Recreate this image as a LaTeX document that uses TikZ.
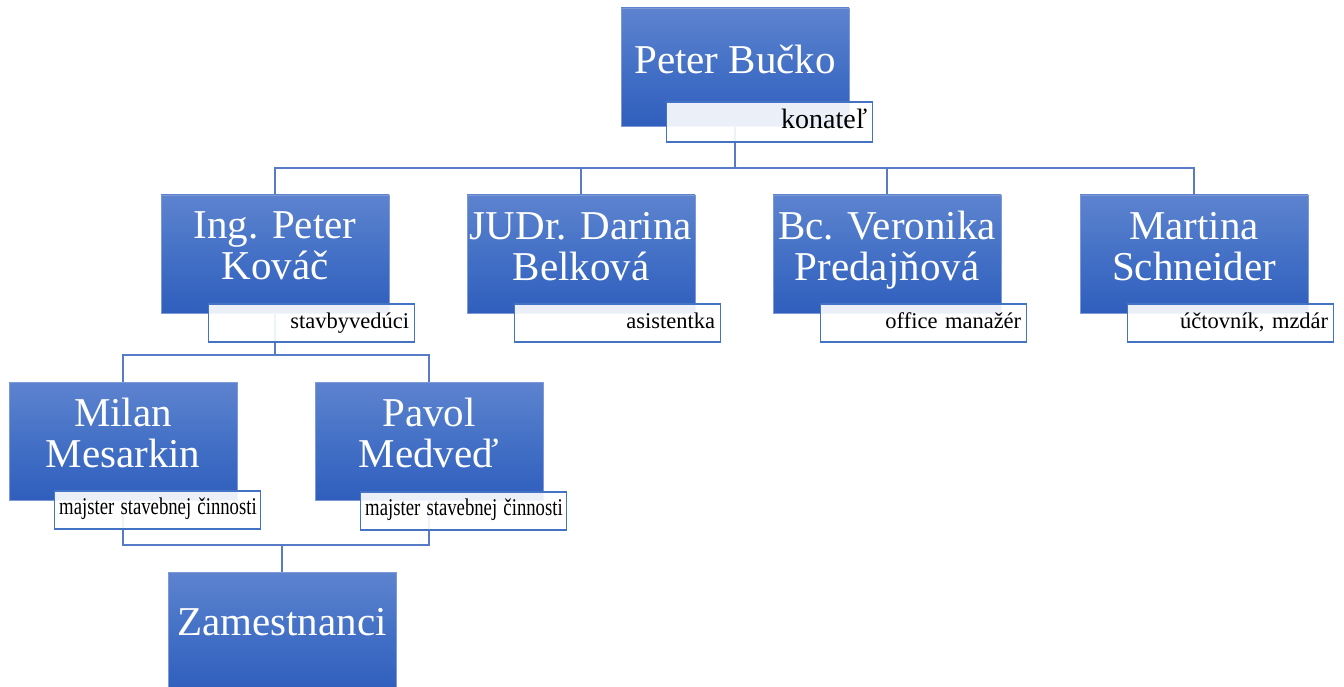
\documentclass[tikz,border=0pt]{standalone}
\usepackage{fontspec}
\setmainfont{Liberation Serif}
\usetikzlibrary{backgrounds}
\definecolor{bxtop}{RGB}{93,131,207}
\definecolor{bxmid}{RGB}{68,113,198}
\definecolor{bxbot}{RGB}{47,94,189}
\definecolor{bxrim}{RGB}{125,153,216}
\definecolor{rim}{RGB}{68,114,196}
\definecolor{lnk}{RGB}{88,123,199}
\newcommand{\tight}[1]{\scalebox{0.78}[1]{#1}}

\begin{document}
\begin{tikzpicture}[x=1pt,y=-1pt,
    person/.style={rectangle,top color=bxtop,bottom color=bxbot,middle color=bxmid,
        draw=bxrim,line width=0.8pt,minimum width=228pt,minimum height=118pt,
        inner sep=0pt,text=white,align=center,font=\fontsize{41}{41}\selectfont},
    twoline/.style={person,text depth=16pt},
    role/.style={rectangle,draw=rim,line width=1.2pt,fill=white,fill opacity=0.9,
        text opacity=1,text=black,text width=196pt,align=right,inner xsep=5pt,
        inner ysep=0pt,minimum height=38pt,anchor=north west},
    link/.style={draw=lnk,line width=2pt}]
    \useasboundingbox (0,0) rectangle (1344,687);

    \node[person,text depth=16pt] (b) at (735,67) {Peter Bučko};
    \node[role,minimum height=40pt,text height=20pt,text depth=6pt,
        font=\fontsize{28}{30}\selectfont] (br) at ([shift={(45,-25)}]b.south west) {konateľ};

    \node[twoline] (k) at (275,254) {Ing. Peter\\Kováč};
    \node[role,text height=16pt,text depth=6pt,font=\fontsize{22.5}{24}\selectfont]
        (kr) at ([shift={(47,-10)}]k.south west) {stavbyvedúci};
    \node[twoline] (d) at (581,254) {JUDr. Darina\\Belková};
    \node[role,text height=16pt,text depth=6pt,font=\fontsize{22.5}{24}\selectfont]
        (dr) at ([shift={(47,-10)}]d.south west) {asistentka};
    \node[twoline] (v) at (887,254) {Bc. Veronika\\Predajňová};
    \node[role,text height=16pt,text depth=6pt,font=\fontsize{22.5}{24}\selectfont]
        (vr) at ([shift={(47,-10)}]v.south west) {office manažér};
    \node[twoline] (s) at (1194,254) {Martina\\Schneider};
    \node[role,text height=16pt,text depth=6pt,font=\fontsize{22.5}{24}\selectfont]
        (sr) at ([shift={(47,-10)}]s.south west) {účtovník, mzdár};

    \node[twoline] (m) at (123,441) {Milan\\Mesarkin};
    \node[role,text height=15pt,text depth=7pt,font=\fontsize{24}{26}\selectfont]
        (mr) at ([shift={(45,-10)}]m.south west) {\tight{majster stavebnej činnosti}};
    \node[twoline] (p) at (429,441) {Pavol\\Medveď};
    \node[role,text height=15pt,text depth=7pt,font=\fontsize{24}{26}\selectfont]
        (pr) at ([shift={(45,-9)}]p.south west) {\tight{majster stavebnej činnosti}};

    \node[person,text depth=18pt] (z) at (282,631) {Zamestnanci};

    \begin{scope}[on background layer]
        \coordinate (bus) at (735,168);
        \foreach \c in {k,d,v,s}
            \draw[link] (b) -- (bus) -| (\c);
        \coordinate (busk) at (275,355);
        \foreach \c in {m,p}
            \draw[link] (k) -- (busk) -| (\c);
        \coordinate (busz) at (282,545);
        \draw[link] (m) |- (busz) -| (p);
        \draw[link] (busz) -- (z);
    \end{scope}
\end{tikzpicture}
\end{document}
